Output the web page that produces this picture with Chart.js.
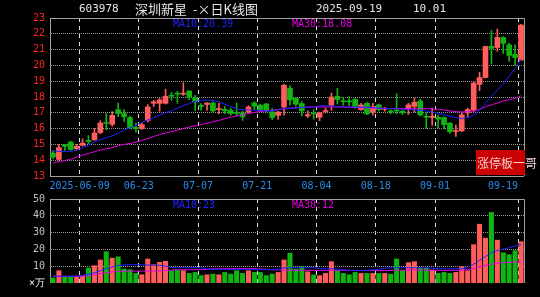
<!DOCTYPE html>
<html>
<head>
<meta charset="utf-8">
<script src="https://cdn.jsdelivr.net/npm/chart.js@4.4.1/dist/chart.umd.min.js"></script>
<style>
  html, body { margin: 0; padding: 0; background: #000; }
  #wrap { position: relative; width: 540px; height: 297px; overflow: hidden; background: #000; }
  canvas { position: absolute; left: 0; }
  .txt { position: absolute; white-space: nowrap; font-family: 'DejaVu Sans Mono', monospace; line-height: 13px; }
  #tag { position: absolute; left: 476px; top: 150px; width: 49px; height: 25px; background: #cc0000; }
  #tag span { position: absolute; left: 1px; top: 0; line-height: 25px; font-size: 12px; color: #f0d0d0;
              font-family: 'Noto Sans CJK SC', sans-serif; white-space: nowrap; }
</style>
</head>
<body>
<div id="wrap">
  <canvas id="price" width="540" height="197" style="top:0"></canvas>
  <canvas id="vol" width="540" height="109" style="top:188px"></canvas>

  <div class="txt" style="left:79px;top:2px;font-size:11px;color:#e6e6e6">603978</div>
  <div class="txt" style="left:135px;top:2px;font-size:13px;color:#e6e6e6;font-family:'Noto Sans CJK SC',sans-serif">深圳新星</div>
  <div class="txt" style="left:193px;top:2px;font-size:13px;color:#e6e6e6;font-family:'Noto Sans CJK SC',sans-serif">-×日K线图</div>
  <div class="txt" style="left:316px;top:2px;font-size:11px;color:#e6e6e6">2025-09-19</div>
  <div class="txt" style="left:413px;top:2px;font-size:11px;color:#e6e6e6">10.01</div>

  <div class="txt" id="pma10" style="left:173px;top:17px;font-size:10px;color:#2020ff"></div>
  <div class="txt" id="pma30" style="left:292px;top:17px;font-size:10px;color:#e000e0"></div>
  <div class="txt" id="vma10" style="left:173px;top:198px;font-size:10px;color:#2020ff"></div>
  <div class="txt" id="vma30" style="left:292px;top:198px;font-size:10px;color:#e000e0"></div>

  <div id="tag"><span>涨停板一哥</span></div>
</div>

<script>
// trading days shown (2025)
const days = [
  '05-30','06-03','06-04','06-05','06-06',
  '06-09','06-10','06-11','06-12','06-13',
  '06-16','06-17','06-18','06-19','06-20',
  '06-23','06-24','06-25','06-26','06-27',
  '06-30','07-01','07-02','07-03','07-04',
  '07-07','07-08','07-09','07-10','07-11',
  '07-14','07-15','07-16','07-17','07-18',
  '07-21','07-22','07-23','07-24','07-25',
  '07-28','07-29','07-30','07-31','08-01',
  '08-04','08-05','08-06','08-07','08-08',
  '08-11','08-12','08-13','08-14','08-15',
  '08-18','08-19','08-20','08-21','08-22',
  '08-25','08-26','08-27','08-28','08-29',
  '09-01','09-02','09-03','09-04','09-05',
  '09-08','09-09','09-10','09-11','09-12',
  '09-15','09-16','09-17','09-18','09-19'
];

const tickDays = ['06-09','06-23','07-07','07-21','08-04','08-18','09-01','09-19'];
const tickText = ['2025-06-09','06-23','07-07','07-21','08-04','08-18','09-01','09-19'];

const opens = [
  14.45,14.05,14.98,15.15,14.72, 14.94,15.25,15.30,15.75,16.37,
  16.27,17.20,16.95,16.70,16.08, 16.00,16.52,17.60,17.60,17.60,
  18.10,18.25,18.18,18.38,17.95, 17.47,17.53,17.62,17.20,17.22,
  17.16,17.00,16.99,17.05,17.62, 17.48,17.56,17.05,16.84,17.37,
  18.56,17.92,17.58,16.80,16.98, 16.72,17.08,17.48,18.05,17.74,
  17.74,17.85,17.20,17.60,17.03, 17.50,17.22,17.12,17.15,17.10,
  17.25,17.40,17.75,16.78,16.70, 16.72,16.70,16.35,15.82,15.85,
  17.00,17.18,18.80,19.23,21.20, 21.13,21.77,21.30,20.70,20.33
];
const closes = [
  14.20,14.80,14.87,14.68,14.88, 15.08,15.18,15.72,16.35,16.33,
  16.84,16.95,16.75,16.06,16.00, 16.25,17.37,17.70,17.82,18.05,
  18.05,18.18,18.24,18.00,17.70, 17.40,17.62,17.12,17.27,17.12,
  16.95,16.95,16.75,17.37,17.42, 17.20,17.12,16.70,17.05,18.75,
  17.82,17.55,17.12,16.88,16.93, 17.00,17.12,18.00,17.84,17.70,
  17.69,17.40,17.50,16.93,17.38, 17.20,17.28,17.05,17.12,17.00,
  17.50,17.67,16.87,16.72,16.78, 16.60,16.25,15.80,15.88,16.87,
  17.20,18.87,19.23,21.20,21.08, 21.77,21.40,20.63,20.50,22.55
];
const highs = [
  14.60,15.00,15.00,15.20,15.00, 15.35,15.55,16.00,16.50,16.95,
  17.08,17.62,17.20,16.80,16.35, 16.35,17.52,17.80,17.90,18.50,
  18.30,18.35,18.90,18.40,18.10, 17.58,17.65,17.70,17.62,17.40,
  17.30,17.62,17.10,17.45,17.70, 17.55,17.60,17.27,17.10,18.80,
  18.72,17.97,17.72,17.12,17.20, 17.05,17.30,18.25,18.55,17.97,
  18.02,17.90,17.60,17.65,17.60, 17.55,17.35,17.20,18.20,17.15,
  17.60,17.92,17.85,17.00,17.30, 16.85,16.75,16.38,16.23,16.97,
  17.30,18.97,19.57,21.22,22.20, 22.30,21.82,21.40,21.30,22.60
];
const lows = [
  14.10,14.00,14.62,14.62,14.65, 14.90,15.05,15.25,15.68,15.93,
  16.15,16.75,16.45,16.00,15.78, 15.95,16.42,17.40,17.10,17.55,
  17.80,17.60,18.10,17.83,17.15, 17.16,17.15,17.05,16.95,16.95,
  16.85,16.80,16.52,17.00,17.20, 17.10,17.05,16.57,16.59,16.85,
  17.50,17.42,16.80,16.70,16.60, 16.50,16.98,17.17,17.56,17.47,
  17.45,17.30,17.15,16.88,16.85, 17.10,17.10,16.95,16.95,16.90,
  16.90,17.05,16.80,16.00,16.20, 16.05,15.98,15.70,15.50,15.80,
  16.75,17.08,18.40,19.20,20.08, 20.90,20.75,20.25,20.00,20.33
];

const ma10 = [
  14.58,14.56,14.54,14.55,14.65, 14.80,14.95,15.15,15.30,15.42,
  15.55,15.70,15.90,16.05,16.20, 16.40,16.55,16.70,16.85,17.00,
  17.12,17.30,17.45,17.58,17.72, 17.80,17.80,17.78,17.70,17.55,
  17.40,17.25,17.20,17.18,17.16, 17.15,17.12,17.11,17.20,17.27,
  17.30,17.30,17.33,17.37,17.37, 17.45,17.45,17.42,17.40,17.38,
  17.37,17.37,17.36,17.35,17.33, 17.30,17.28,17.26,17.25,17.22,
  17.20,17.18,17.16,17.12,17.05, 16.97,16.88,16.78,16.68,16.63,
  16.70,16.85,17.15,17.60,18.05, 18.45,18.85,19.30,19.80,20.39
];
const ma30 = [
  13.82,13.90,13.98,14.06,14.20, 14.32,14.42,14.54,14.64,14.72,
  14.80,14.92,15.00,15.06,15.15, 15.25,15.38,15.50,15.62,15.72,
  15.80,15.90,16.00,16.10,16.18, 16.26,16.35,16.43,16.52,16.62,
  16.72,16.80,16.87,16.95,17.02, 17.08,17.13,17.17,17.21,17.25,
  17.28,17.32,17.34,17.35,17.36, 17.37,17.37,17.37,17.37,17.36,
  17.35,17.33,17.32,17.31,17.30, 17.29,17.28,17.27,17.27,17.26,
  17.26,17.26,17.26,17.26,17.24, 17.22,17.18,17.12,17.07,17.05,
  17.07,17.12,17.22,17.38,17.50, 17.62,17.75,17.83,17.92,18.08
];

// volume, in units of 10k lots
const volume = [
  3.2,7.5,3.6,3.6,3.6, 4.5,9.1,10.5,13.9,18.8,
  15.0,15.8,8.5,8.1,5.9, 5.1,14.5,11.1,12.5,13.1,
  7.5,7.9,7.5,5.9,6.5, 4.6,5.1,5.5,5.1,6.5,
  5.5,7.5,5.9,7.5,6.5, 6.5,4.6,5.5,6.5,13.9,
  18.0,8.5,10.1,6.9,5.0, 4.6,5.9,12.9,7.5,5.9,
  5.1,6.5,5.9,5.9,5.9, 5.9,5.9,5.5,14.5,7.5,
  12.3,12.9,9.1,9.1,7.9, 5.9,6.5,5.9,6.5,9.9,
  7.5,23.0,35.2,26.9,42.2, 25.7,18.2,17.0,19.4,24.8
];
const volMa10 = [
  4.0,4.0,4.0,4.0,4.1, 4.5,5.2,6.1,7.3,8.6,
  9.6,10.4,10.8,10.9,10.9, 10.8,10.7,10.6,10.5,10.0,
  9.3,9.1,9.1,9.1,9.1, 9.1,8.3,8.1,8.1,8.1,
  8.1,8.1,8.1,8.1,8.0, 8.0,8.0,7.9,8.2,9.0,
  9.1,9.1,9.1,9.1,9.1, 8.6,8.5,8.5,8.3,7.8,
  7.5,7.5,7.5,7.6,7.8, 8.2,8.8,9.1,9.1,9.1,
  9.1,9.1,9.1,9.0,8.8, 8.5,8.5,8.5,8.5,8.5,
  9.2,11.2,13.5,15.8,18.0, 19.3,20.2,21.0,22.0,23.0
];
const volMa30 = [
  4.0,4.0,4.0,4.0,4.0, 4.1,4.3,4.9,5.6,6.1,
  6.6,7.0,7.1,7.1,7.1, 7.1,7.1,7.1,7.2,7.4,
  7.7,7.9,7.9,7.9,7.9, 7.9,8.1,8.4,8.5,8.5,
  8.5,8.5,8.5,8.5,8.5, 8.4,8.2,7.9,7.8,7.6,
  7.5,7.6,7.6,7.6,7.5, 7.5,7.5,7.6,7.6,7.5,
  7.5,7.4,7.4,7.4,7.4, 7.4,7.4,7.5,7.6,7.6,
  7.7,7.7,7.7,7.7,7.6, 7.6,7.5,7.5,7.5,7.6,
  7.9,8.6,9.6,10.5,11.2, 11.8,12.1,12.3,12.4,12.5
];

const legendPrice = ['MA10:20.39', 'MA30:18.08'];
const legendVol = ['MA10:23', 'MA30:12'];

const UP = '#ff5c5c';
const DOWN = '#12b412';
const BLUE = '#2020ff';
const PINK = '#e000e0';
const mono = { family: 'DejaVu Sans Mono', size: 10 };

document.getElementById('pma10').textContent = legendPrice[0];
document.getElementById('pma30').textContent = legendPrice[1];
document.getElementById('vma10').textContent = legendVol[0];
document.getElementById('vma30').textContent = legendVol[1];

const colors = closes.map((c, i) => (c >= opens[i] ? UP : DOWN));
const bodies = opens.map((o, i) => [o, closes[i]]);
const wicks = lows.map((l, i) => [l, highs[i]]);

const isTickDay = (i) => tickDays.indexOf(days[i]) >= 0;

// top + right edges of the plot box
const frame = {
  id: 'frame',
  afterDraw(chart) {
    const { ctx, chartArea: a } = chart;
    ctx.save();
    ctx.strokeStyle = '#a0a0a0';
    ctx.lineWidth = 1;
    ctx.beginPath();
    ctx.moveTo(a.left, Math.round(a.top) + 0.5);
    ctx.lineTo(Math.round(a.right) + 0.5, Math.round(a.top) + 0.5);
    ctx.lineTo(Math.round(a.right) + 0.5, a.bottom);
    ctx.stroke();
    ctx.restore();
  }
};

function xAxis(showLabels, height) {
  return {
    offset: true,
    grid: {
      offset: true,
      color: '#e0e0e0',
      lineWidth: (ctx) => (ctx.index < days.length && isTickDay(ctx.index) ? 1 : 0),
      drawTicks: false
    },
    border: { display: showLabels, color: '#a0a0a0', dash: [4, 4] },
    ticks: {
      display: showLabels,
      autoSkip: false,
      maxRotation: 0,
      minRotation: 0,
      padding: 4,
      labelOffset: -3,
      color: '#2a8ae8',
      font: mono,
      callback: (v, i) => {
        const k = tickDays.indexOf(days[i]);
        if (k < 0) return '';
        return k === tickDays.length - 1 ? tickText[k] + '     ' : tickText[k];
      }
    },
    afterFit: (s) => { s.height = height; s.paddingLeft = 0; s.paddingRight = 0; }
  };
}

new Chart(document.getElementById('price'), {
  type: 'bar',
  data: {
    labels: days,
    datasets: [
      { type: 'line', data: ma10, borderColor: BLUE, borderWidth: 1, pointRadius: 0, tension: 0, order: -2 },
      { type: 'line', data: ma30, borderColor: PINK, borderWidth: 1, pointRadius: 0, tension: 0, order: -1 },
      { data: bodies, backgroundColor: colors, barThickness: 5, minBarLength: 1, grouped: false, order: 0 },
      { data: wicks, backgroundColor: colors, barThickness: 1, grouped: false, order: 1 }
    ]
  },
  options: {
    responsive: false,
    animation: false,
    layout: { padding: { top: 18, right: 16, left: 0, bottom: 0 } },
    plugins: { legend: { display: false }, tooltip: { enabled: false } },
    scales: {
      x: xAxis(true, 21),
      y: {
        min: 13,
        max: 23,
        ticks: { stepSize: 1, color: '#ff2020', font: mono, padding: 5 },
        grid: {
          color: '#9a9a9a',
          lineWidth: (ctx) => (ctx.tick && (ctx.tick.value === 13 || ctx.tick.value === 23) ? 0 : 1),
          drawTicks: false
        },
        border: { color: '#a0a0a0', dash: [1, 1] },
        afterFit: (s) => { s.width = 50; s.paddingTop = 0; s.paddingBottom = 0; }
      }
    }
  },
  plugins: [frame]
});

new Chart(document.getElementById('vol'), {
  type: 'bar',
  data: {
    labels: days,
    datasets: [
      { type: 'line', data: volMa10, borderColor: BLUE, borderWidth: 1, pointRadius: 0, tension: 0, order: -2 },
      { type: 'line', data: volMa30, borderColor: PINK, borderWidth: 1, pointRadius: 0, tension: 0, order: -1 },
      { data: volume, backgroundColor: colors, barPercentage: 0.85, categoryPercentage: 1, order: 0 }
    ]
  },
  options: {
    responsive: false,
    animation: false,
    layout: { padding: { top: 11, right: 16, left: 0, bottom: 0 } },
    plugins: { legend: { display: false }, tooltip: { enabled: false } },
    scales: {
      x: xAxis(false, 14),
      y: {
        min: 0,
        max: 50,
        ticks: {
          stepSize: 10,
          padding: 5,
          font: mono,
          color: (ctx) => (ctx.tick && ctx.tick.value === 0 ? '#f4f4f4' : '#c0c0c0'),
          callback: (v) => (v === 0 ? '×万' : v)
        },
        grid: {
          color: '#9a9a9a',
          lineWidth: (ctx) => (ctx.tick && (ctx.tick.value === 0 || ctx.tick.value === 50) ? 0 : 1),
          drawTicks: false
        },
        border: { color: '#a0a0a0', dash: [1, 1] },
        afterFit: (s) => { s.width = 50; s.paddingTop = 0; s.paddingBottom = 0; }
      }
    }
  },
  plugins: [frame]
});
</script>
</body>
</html>
